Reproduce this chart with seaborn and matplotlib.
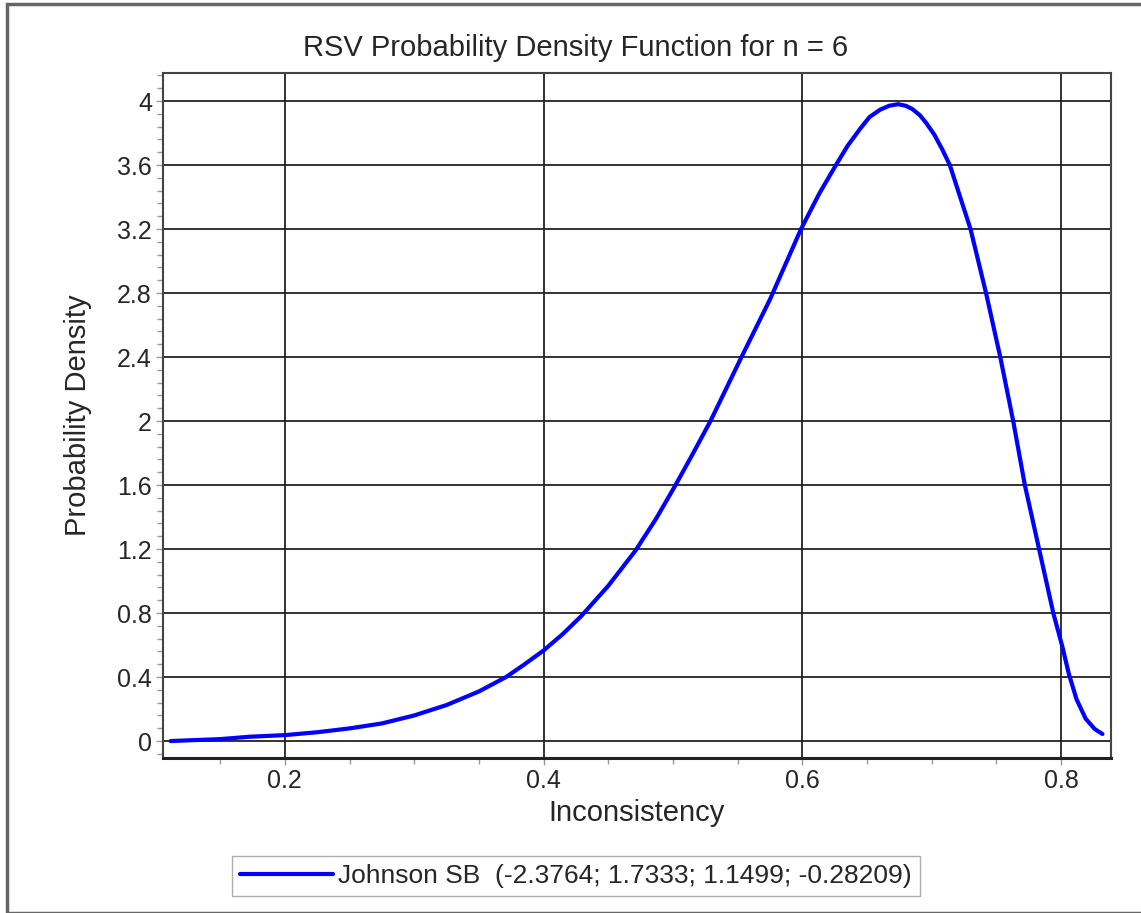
import numpy as np
import pandas as pd
import matplotlib
matplotlib.use("Agg")
import matplotlib.pyplot as plt
from matplotlib.patches import Rectangle
from matplotlib.ticker import MultipleLocator
import seaborn as sns

# values (Johnson SB fit, n = 6)
inconsistency = [0.1117, 0.150, 0.173, 0.200, 0.225, 0.250, 0.275, 0.300,
                 0.325, 0.350, 0.371, 0.385, 0.400, 0.415, 0.429, 0.450,
                 0.471, 0.487, 0.502, 0.515, 0.529, 0.541, 0.553, 0.564,
                 0.575, 0.587, 0.599, 0.613, 0.626, 0.635, 0.645, 0.652,
                 0.660, 0.667, 0.674, 0.680, 0.685, 0.691, 0.696, 0.702,
                 0.708, 0.714, 0.720, 0.730, 0.742, 0.753, 0.763, 0.772,
                 0.783, 0.794, 0.801, 0.806, 0.812, 0.819, 0.826, 0.832]
density = [0.000, 0.012, 0.027, 0.037, 0.055, 0.079, 0.110, 0.160,
           0.225, 0.310, 0.400, 0.478, 0.566, 0.670, 0.780, 0.970,
           1.190, 1.390, 1.600, 1.790, 2.000, 2.200, 2.400, 2.580,
           2.760, 2.980, 3.200, 3.420, 3.600, 3.720, 3.830, 3.900,
           3.945, 3.970, 3.980, 3.970, 3.950, 3.910, 3.860, 3.790,
           3.700, 3.600, 3.450, 3.200, 2.800, 2.400, 2.000, 1.600,
           1.200, 0.800, 0.590, 0.420, 0.260, 0.140, 0.075, 0.044]

series_label = "Johnson SB  (-2.3764; 1.7333; 1.1499; -0.28209)"
title = "RSV Probability Density Function for n = 6"
xlabel = "Inconsistency"
ylabel = "Probability Density"

df = pd.DataFrame({"x": inconsistency, "y": density})

sns.set_theme(style="white")
plt.rcParams["font.family"] = ["Liberation Sans", "DejaVu Sans"]

W, H = 1141, 913
fig = plt.figure(figsize=(W / 100, H / 100), dpi=100)
ax = fig.add_axes([163 / W, 1 - 758 / H, (1111 - 163) / W, (758 - 73) / H])

sns.lineplot(data=df, x="x", y="y", ax=ax, color="#0000ff", linewidth=3,
             label=series_label, legend=False)

ax.set_xlim(0.1058, 0.8386)
ax.set_ylim(-0.106, 4.175)
ax.xaxis.set_major_locator(MultipleLocator(0.2))
ax.xaxis.set_minor_locator(MultipleLocator(0.05))
ax.yaxis.set_major_locator(MultipleLocator(0.4))
ax.yaxis.set_minor_locator(MultipleLocator(0.08))
ax.set_xticklabels([f"{t:g}" for t in ax.get_xticks()])
ax.set_yticklabels([f"{t:g}" for t in ax.get_yticks()])

ax.grid(True, which="major", color="#222222", linewidth=1.3)
ax.set_axisbelow(True)
for side, sp in ax.spines.items():
    sp.set_visible(True)
    sp.set_color("#444444")
    sp.set_linewidth(1.5)
ax.spines["bottom"].set_linewidth(2.2)
ax.spines["bottom"].set_color("#222222")

ax.tick_params(axis="both", which="major", direction="out", length=5,
               width=1, color="#999999", labelsize=18, pad=3,
               bottom=True, left=True)
ax.tick_params(axis="both", which="minor", direction="out", length=4,
               width=1, color="#999999", bottom=True, left=True)

fig.suptitle(title, x=576 / W, y=1 - 48 / H, va="center", fontsize=21)
ax.set_xlabel(xlabel, fontsize=21, labelpad=4)
ax.set_ylabel(ylabel, fontsize=21, labelpad=18)

fig.legend(loc="center", bbox_to_anchor=(576 / W, 1 - 876 / H),
           fontsize=19, frameon=True, fancybox=False, edgecolor="#999999",
           handlelength=3.5, handletextpad=0.2, borderpad=0.3)

fig.patches.append(Rectangle((6.5 / W, 0), 2, 1 - 4.5 / H,
                             transform=fig.transFigure, fill=False,
                             edgecolor="#666666", linewidth=2.5))

fig.savefig("out.png", dpi=100, facecolor="white")
